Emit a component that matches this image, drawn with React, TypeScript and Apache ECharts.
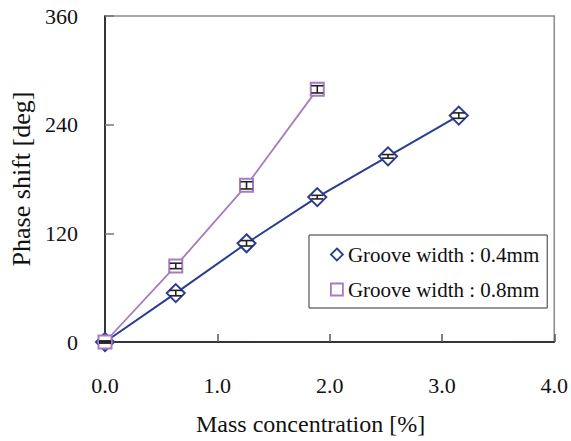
import React, { useEffect, useRef } from "react";
import * as echarts from "echarts";

const xTicks = [0, 1, 2, 3, 4];
const yTicks = [0, 120, 240, 360];

const seriesNames = ["Groove width : 0.4mm", "Groove width : 0.8mm"];

const conc04 = [0, 0.63, 1.26, 1.89, 2.52, 3.15];
const phase04 = [0, 54, 109, 160, 205, 250];
const err04 = [1, 3, 3, 2, 2, 3];

const conc08 = [0, 0.63, 1.26, 1.89];
const phase08 = [0, 84, 173, 279];
const err08 = [1, 3, 4, 4];

const NAVY = "#2b3d8f";
const PURPLE = "#a57cc0";
const FONT = "Times New Roman, Liberation Serif, serif";

export default function App() {
  const ref = useRef<HTMLDivElement>(null);

  useEffect(() => {
    if (!ref.current) return;
    const chart = echarts.init(ref.current, null, { renderer: "svg" });

    const errData = [
      ...conc04.map((x, i) => [x, phase04[i], err04[i]]),
      ...conc08.map((x, i) => [x, phase08[i], err08[i]]),
    ];

    chart.setOption({
      animation: false,
      backgroundColor: "#fff",
      textStyle: { fontFamily: FONT },
      grid: {
        left: 104,
        top: 16,
        right: 14,
        bottom: 94,
        show: true,
        borderColor: "#8a8a8a",
        borderWidth: 1.5,
      },
      xAxis: {
        type: "value",
        min: xTicks[0],
        max: xTicks[xTicks.length - 1],
        interval: 1,
        name: "Mass concentration [%]",
        nameLocation: "middle",
        nameGap: 70,
        nameTextStyle: { fontFamily: FONT, fontSize: 24, color: "#111", padding: [0, 38, 0, 0] },
        axisLine: { show: true, lineStyle: { color: "#111", width: 1.5 } },
        axisTick: { show: true, inside: true, length: 8, lineStyle: { color: "#555", width: 1.5 } },
        axisLabel: {
          margin: 32,
          fontFamily: FONT,
          fontSize: 22,
          color: "#111",
          formatter: (v: number) => v.toFixed(1),
        },
        splitLine: { show: false },
      },
      yAxis: {
        type: "value",
        min: yTicks[0],
        max: yTicks[yTicks.length - 1],
        interval: 120,
        name: "Phase shift [deg]",
        nameLocation: "middle",
        nameGap: 71,
        nameTextStyle: { fontFamily: FONT, fontSize: 26, color: "#111" },
        axisLine: { show: true, lineStyle: { color: "#111", width: 1.5 } },
        axisTick: { show: true, inside: true, length: 9, lineStyle: { color: "#777", width: 1.5 } },
        axisLabel: { margin: 27, fontFamily: FONT, fontSize: 22, color: "#111" },
        splitLine: { show: false },
      },
      legend: {
        orient: "vertical",
        left: 309,
        top: 235,
        padding: [9, 8, 8, 21],
        itemGap: 14,
        itemWidth: 12,
        itemHeight: 12,
        borderColor: "#333",
        borderWidth: 1,
        backgroundColor: "#fff",
        textStyle: { fontFamily: FONT, fontSize: 21, color: "#111" },
        data: [
          { name: seriesNames[0], icon: "diamond", itemStyle: { color: "#fff", borderColor: NAVY, borderWidth: 1.8 } },
          { name: seriesNames[1], icon: "rect", itemStyle: { color: "#fff", borderColor: PURPLE, borderWidth: 1.8 } },
        ],
      },
      series: [
        {
          name: seriesNames[0],
          type: "line",
          data: conc04.map((x, i) => [x, phase04[i]]),
          symbol: "diamond",
          symbolSize: 18,
          showAllSymbol: true,
          lineStyle: { color: NAVY, width: 2 },
          itemStyle: { color: "#fff", borderColor: NAVY, borderWidth: 2 },
          z: 3,
        },
        {
          name: seriesNames[1],
          type: "line",
          data: conc08.map((x, i) => [x, phase08[i]]),
          symbol: "rect",
          symbolSize: 13,
          showAllSymbol: true,
          lineStyle: { color: PURPLE, width: 1.8 },
          itemStyle: { color: "#fff", borderColor: PURPLE, borderWidth: 2 },
          z: 3,
        },
        {
          type: "custom",
          name: "err",
          data: errData,
          z: 5,
          renderItem: (params: any, api: any) => {
            const x = api.value(0);
            const y = api.value(1);
            const e = api.value(2);
            const top = api.coord([x, y + e]);
            const bot = api.coord([x, y - e]);
            const hw = 6;
            const style = { stroke: "#222", lineWidth: 1.6 };
            return {
              type: "group",
              children: [
                { type: "line", shape: { x1: top[0], y1: top[1], x2: bot[0], y2: bot[1] }, style },
                { type: "line", shape: { x1: top[0] - hw, y1: top[1], x2: top[0] + hw, y2: top[1] }, style },
                { type: "line", shape: { x1: bot[0] - hw, y1: bot[1], x2: bot[0] + hw, y2: bot[1] }, style },
              ],
            };
          },
        },
      ],
    });

    return () => chart.dispose();
  }, []);

  return <div ref={ref} style={{ width: 571, height: 441, position: "absolute", left: 0, top: 0 }} />;
}
